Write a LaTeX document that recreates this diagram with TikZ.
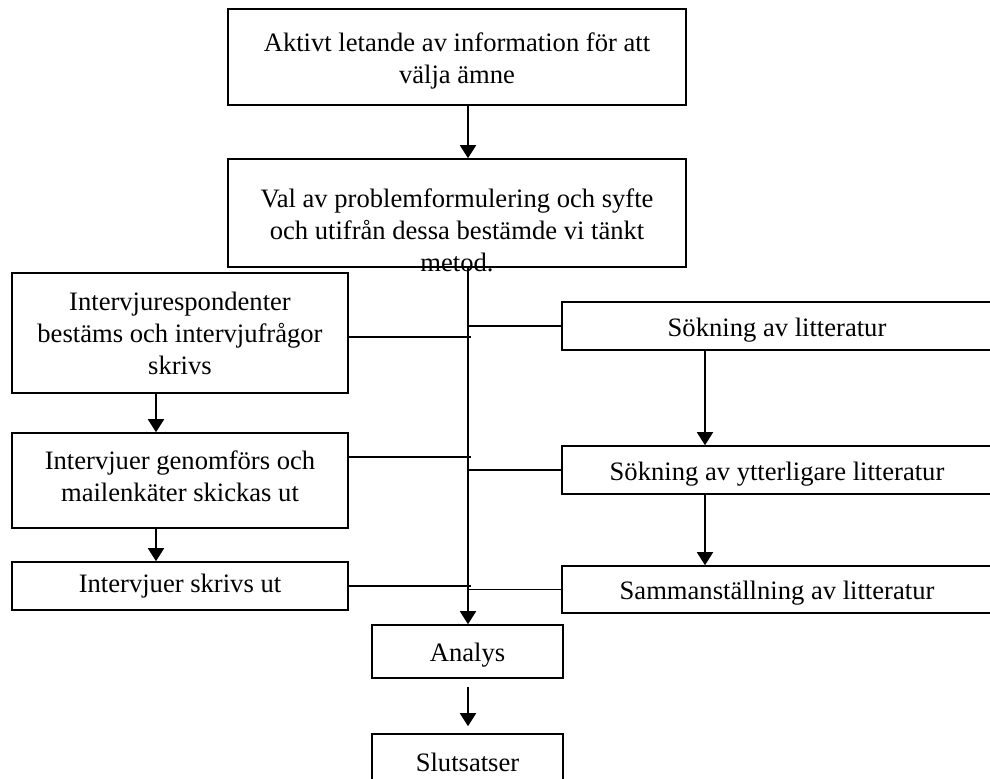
\documentclass[tikz,border=0pt]{standalone}
\usepackage{fontspec}
\setmainfont{Liberation Serif}
\usetikzlibrary{arrows.meta}
\newcommand{\topstrut}{\rule{0pt}{13pt}}

\begin{document}
\begin{tikzpicture}[x=0.5pt,y=-0.5pt]
\tikzset{
  stepbox/.style={draw,line width=0.8pt,align=center,inner sep=0pt,font=\fontsize{13.3}{16}\selectfont},
  flow/.style={-{Triangle[length=6.5pt,width=8pt]},line width=0.9pt},
  link/.style={line width=0.9pt}
}
\useasboundingbox (0,0) rectangle (990,778);
\clip (0,0) rectangle (990,778);
% axes for the connectors
\coordinate (spine) at (468,0);
\coordinate (spineR) at (471,0);
\coordinate (leftaxis) at (156,0);
\coordinate (rightaxis) at (705,0);
% top boxes
\node[stepbox,minimum width=229pt,minimum height=48pt] (n_aktivt) at (457,57) {\topstrut Aktivt letande av information för att\\välja ämne};
\node[stepbox,minimum width=229pt,minimum height=54pt] (n_val) at (457,213) {\raisebox{-13.75pt}[0pt][0pt]{\begin{tabular}{@{}c@{}}Val av problemformulering och syfte\\och utifrån dessa bestämde vi tänkt\\metod.\end{tabular}}};
% left column
\node[stepbox,minimum width=168pt,minimum height=60pt] (n_resp) at (180,333) {Intervjurespondenter\\bestäms och intervjufrågor\\skrivs};
\node[stepbox,minimum width=168pt,minimum height=47.5pt] (n_genom) at (180,480.5) {Intervjuer genomförs och\\mailenkäter skickas ut\rule[-4pt]{0pt}{0pt}};
\node[stepbox,minimum width=168pt,minimum height=24pt] (n_skrivs) at (180,586) {Intervjuer skrivs ut};
% right column
\node[stepbox,minimum width=215pt,minimum height=24pt] (n_sok) at (777,326) {\topstrut Sökning av litteratur};
\node[stepbox,minimum width=215pt,minimum height=24pt] (n_ytter) at (777,470) {\topstrut Sökning av ytterligare litteratur};
\node[stepbox,minimum width=215pt,minimum height=23.5pt] (n_samman) at (777,589.5) {\topstrut Sammanställning av litteratur};
% bottom boxes
\node[stepbox,minimum width=95.5pt,minimum height=26.5pt] (n_analys) at (467.5,651.5) {\topstrut Analys};
\node[stepbox,minimum width=95.5pt,minimum height=28pt] (n_slut) at (467.5,762) {Slutsatser};
% arrows
\draw[flow] (n_aktivt.south -| spine) -- (n_val.north -| spine);
\draw[flow] (n_val.south -| spine) -- (n_analys.north -| spine);
\draw[flow] (n_resp.south -| leftaxis) -- (n_genom.north -| leftaxis);
\draw[flow] (n_genom.south -| leftaxis) -- (n_skrivs.north -| leftaxis);
\draw[flow] (n_sok.south -| rightaxis) -- (n_ytter.north -| rightaxis);
\draw[flow] (n_ytter.south -| rightaxis) -- (n_samman.north -| rightaxis);
\draw[flow,shorten <=4pt,shorten >=3.5pt] (n_analys.south -| spine) -- (n_slut.north -| spine);
% links to the spine
\draw[link] ([yshift=-2pt]n_resp.east) -- ([yshift=-2pt]n_resp.east -| spineR);
\draw[link] ([yshift=11.75pt]n_genom.east) -- ([yshift=11.75pt]n_genom.east -| spineR);
\draw[link] (n_skrivs.east) -- (n_skrivs.east -| spineR);
\draw[link] (n_sok.west -| spine) -- (n_sok.west);
\draw[link] (n_ytter.west -| spine) -- (n_ytter.west);
\draw[link] (n_samman.west -| spine) -- (n_samman.west);
\end{tikzpicture}
\end{document}
